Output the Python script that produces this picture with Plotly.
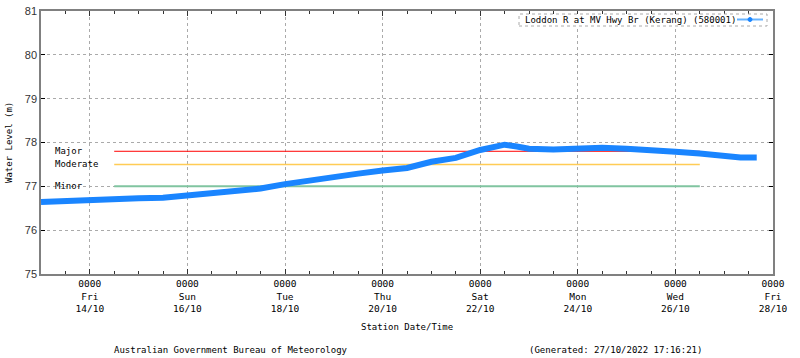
import plotly.graph_objects as go

# ---- data ----
times = [
    "2022-10-13 00:00", "2022-10-13 12:00", "2022-10-14 00:00", "2022-10-14 12:00",
    "2022-10-15 00:00", "2022-10-15 12:00", "2022-10-16 00:00", "2022-10-16 12:00",
    "2022-10-17 00:00", "2022-10-17 12:00", "2022-10-18 00:00", "2022-10-18 12:00",
    "2022-10-19 00:00", "2022-10-19 12:00", "2022-10-20 00:00", "2022-10-20 12:00",
    "2022-10-21 00:00", "2022-10-21 12:00", "2022-10-22 00:00", "2022-10-22 08:00",
    "2022-10-22 12:00", "2022-10-22 18:00", "2022-10-23 00:00", "2022-10-23 12:00",
    "2022-10-24 00:00", "2022-10-24 12:00", "2022-10-25 00:00", "2022-10-25 12:00",
    "2022-10-26 00:00", "2022-10-26 12:00", "2022-10-27 00:00", "2022-10-27 08:00",
    "2022-10-27 16:00",
]
levels = [
    76.64, 76.67, 76.70, 76.71, 76.73, 76.74, 76.79, 76.82,
    76.88, 76.95, 77.05, 77.14, 77.23, 77.29, 77.36, 77.42,
    77.56, 77.65, 77.83, 77.93, 77.95, 77.91, 77.86, 77.84,
    77.87, 77.88, 77.86, 77.84, 77.79, 77.75, 77.69, 77.66,
    77.66,
]
series_name = "Loddon R at MV Hwy Br (Kerang) (580001)"

flood_names = ["Major", "Moderate", "Minor"]
flood_levels = [77.8, 77.5, 77.0]
flood_colors = ["#FF0000", "#FFCC55", "#80C4A0"]
flood_widths = [1, 1.5, 2]
flood_start = "2022-10-14 12:00"
flood_end = "2022-10-26 12:00"

tick_vals = ["2022-10-14", "2022-10-16", "2022-10-18", "2022-10-20",
             "2022-10-22", "2022-10-24", "2022-10-26", "2022-10-28"]
tick_days = ["Fri", "Sun", "Tue", "Thu", "Sat", "Mon", "Wed", "Fri"]
tick_dates = ["14/10", "16/10", "18/10", "20/10", "22/10", "24/10", "26/10", "28/10"]
tick_text = [f"0000<br>{d}<br>{dt}" for d, dt in zip(tick_days, tick_dates)]

x_range = ["2022-10-13 00:00", "2022-10-28 00:00"]
y_range = [75, 81]
y_ticks = [75, 76, 77, 78, 79, 80, 81]

MONO = "DejaVu Sans Mono"
BLUE = "#1A85FF"

# plot-area geometry in pixels
L, R, T, B = 41, 773, 11, 274
W, H = R - L, B - T


def px(x):
    return (x - L) / W


def py(y):
    return (B - y) / H


fig = go.Figure()

for name, lvl, col, w in zip(flood_names, flood_levels, flood_colors, flood_widths):
    fig.add_trace(go.Scatter(x=[flood_start, flood_end], y=[lvl, lvl], mode="lines",
                             line=dict(color=col, width=w), showlegend=False,
                             hoverinfo="skip"))
    fig.add_annotation(x=px(53), xref="paper", y=lvl, yref="y", text=name,
                       showarrow=False, xanchor="left", yanchor="middle",
                       font=dict(family=MONO, size=9, color="#000"))

fig.add_trace(go.Scatter(x=times, y=levels, mode="lines", name=series_name,
                         line=dict(color=BLUE, width=6), showlegend=False))

# legend (drawn manually: text then symbol, dotted box)
fig.add_shape(type="rect", xref="paper", yref="paper",
              x0=px(519), x1=px(767), y0=py(26), y1=py(14),
              line=dict(color="#AAAAAA", width=1, dash="dot"), fillcolor="white")
fig.add_annotation(x=px(523), xref="paper", y=py(20), yref="paper",
                   text=series_name, showarrow=False, xanchor="left", yanchor="middle",
                   font=dict(family=MONO, size=9, color="#000"))
fig.add_shape(type="line", xref="paper", yref="paper",
              x0=px(737), x1=px(763), y0=py(19.5), y1=py(19.5),
              line=dict(color="#66B3FF", width=2))
fig.add_shape(type="circle", xref="paper", yref="paper",
              x0=px(748), x1=px(752), y0=py(21.5), y1=py(17.5),
              line=dict(color=BLUE, width=1), fillcolor=BLUE)

# axis titles and footer
fig.add_annotation(x=px(407), xref="paper", y=py(327), yref="paper",
                   text="Station Date/Time", showarrow=False,
                   xanchor="center", yanchor="middle",
                   font=dict(family=MONO, size=9, color="#000"))
fig.add_annotation(x=px(9), xref="paper", y=py(143), yref="paper",
                   text="Water Level (m)", showarrow=False, textangle=-90,
                   xanchor="center", yanchor="middle",
                   font=dict(family=MONO, size=9, color="#000"))
fig.add_annotation(x=px(112), xref="paper", y=py(350), yref="paper",
                   text="Australian Government Bureau of Meteorology", showarrow=False,
                   xanchor="left", yanchor="middle",
                   font=dict(family=MONO, size=9, color="#000"))
fig.add_annotation(x=px(527), xref="paper", y=py(350), yref="paper",
                   text="(Generated: 27/10/2022 17:16:21)", showarrow=False,
                   xanchor="left", yanchor="middle",
                   font=dict(family=MONO, size=9, color="#000"))

fig.update_layout(
    width=800, height=358,
    margin=dict(l=L, r=800 - R, t=T, b=358 - B, pad=0),
    paper_bgcolor="white", plot_bgcolor="white",
    showlegend=False,
    xaxis=dict(
        type="date", range=x_range, automargin=False,
        tickmode="array", tickvals=tick_vals, ticktext=tick_text,
        tickfont=dict(family=MONO, size=9.5, color="#000"),
        ticks="inside", ticklen=5, tickcolor="#333",
        showgrid=True, gridcolor="#AAAAAA", griddash="dot", gridwidth=1,
        showline=True, linecolor="#808080", linewidth=1.5, mirror="ticks",
        zeroline=False,
        minor=dict(dtick=12 * 3600 * 1000, tick0="2022-10-13", ticks="inside",
                   ticklen=3, tickcolor="#333", showgrid=False),
    ),
    yaxis=dict(
        range=y_range, tickvals=y_ticks, automargin=False,
        tickfont=dict(family="Liberation Sans", size=11, color="#333"),
        ticks="inside", ticklen=4, tickcolor="#000",
        showgrid=True, gridcolor="#AAAAAA", griddash="dot", gridwidth=1,
        showline=True, linecolor="#808080", linewidth=1.5, mirror="ticks",
        zeroline=False,
    ),
)

fig.write_html("out.html", config={"displayModeBar": False},
               post_script="document.body.style.margin='0';")
